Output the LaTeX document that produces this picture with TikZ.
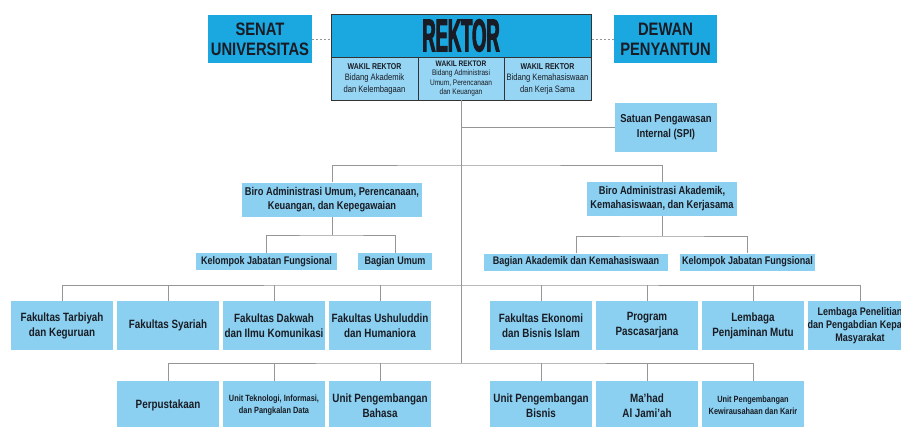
\documentclass[tikz,border=0pt]{standalone}
\usepackage{fontspec}
\usepackage{xcolor}
\usepackage{tikz}
\setmainfont{Liberation Sans}[FakeStretch=0.82]
\newfontfamily\rektorfont{Liberation Sans}[FakeStretch=0.40,FakeBold=2]
\definecolor{topblue}{RGB}{27,167,224}
\definecolor{boxblue}{RGB}{139,208,240}
\definecolor{cellblue}{RGB}{150,213,243}
\definecolor{linegray}{RGB}{150,150,150}
\definecolor{ink}{RGB}{25,28,36}

\begin{document}
\begin{tikzpicture}[x=1pt, y=-1pt, text=ink,
    head/.style={fill=topblue, minimum width=104pt, minimum height=48pt, inner sep=0pt, align=center,
        font=\bfseries\fontsize{18}{20}\selectfont},
    cell/.style={fill=cellblue, draw=black!80, line width=0.9pt, minimum width=87pt, minimum height=43pt,
        inner sep=0pt, align=center, font=\fontsize{9.3}{11.5}\selectfont},
    unit/.style={fill=boxblue, minimum width=102pt, minimum height=49pt, inner sep=0pt, align=center,
        font=\bfseries\fontsize{12}{15}\selectfont},
    biro/.style={fill=boxblue, minimum height=34pt, inner sep=0pt, align=center,
        font=\bfseries\fontsize{11.3}{14}\selectfont},
    sub/.style={fill=boxblue, minimum height=17pt, inner sep=0pt, align=center,
        font=\bfseries\fontsize{11}{13}\selectfont},
    small/.style={font=\bfseries\fontsize{9}{12}\selectfont},
    link/.style={draw=linegray, line width=1pt}]

    \useasboundingbox[fill=white] (0,0) rectangle (901,426);
    \clip (0,0) rectangle (901,426);

    \node[head] (senat) at (260,39) {SENAT\\UNIVERSITAS};
    \node[head, minimum width=260pt, minimum height=43pt, draw=black!80, line width=0.9pt,
        font=\rektorfont\bfseries\fontsize{46}{46}\selectfont] (rektor) at (461,35.5) {REKTOR};
    \node[cell] (wr1) at (374.5,78.5) {{\bfseries\fontsize{8.5}{10}\selectfont WAKIL REKTOR}\\Bidang Akademik\\dan Kelembagaan};
    \node[cell, minimum width=86pt, font=\fontsize{8}{9.6}\selectfont] (wr2) at (461,78.5)
        {{\bfseries WAKIL REKTOR}\\Bidang Administrasi\\Umum, Perencanaan\\dan Keuangan};
    \node[cell] (wr3) at (547.5,78.5) {{\bfseries\fontsize{8.5}{10}\selectfont WAKIL REKTOR}\\Bidang Kemahasiswaan\\dan Kerja Sama};
    \node[head, minimum width=103pt] (dewan) at (665.5,39) {DEWAN\\PENYANTUN};

    \node[unit, font=\bfseries\fontsize{11.5}{15}\selectfont] (spi) at (666,127.5) {Satuan Pengawasan\\Internal (SPI)};

    \node[biro, minimum width=180pt] (birou) at (332,199.5) {Biro Administrasi Umum, Perencanaan,\\Keuangan, dan Kepegawaian};
    \node[biro, minimum width=150pt] (biroa) at (662,199) {Biro Administrasi Akademik,\\Kemahasiswaan, dan Kerjasama};

    \node[sub, minimum width=141pt] (kjfu) at (266.5,261.5) {Kelompok Jabatan Fungsional};
    \node[sub, minimum width=74pt] (bagumum) at (395,261.5) {Bagian Umum};
    \node[sub, minimum width=184pt] (bagak) at (576,262) {Bagian Akademik dan Kemahasiswaan};
    \node[sub, minimum width=135pt] (kjfa) at (747.5,262) {Kelompok Jabatan Fungsional};

    \node[unit] (ftk) at (62,325.5) {Fakultas Tarbiyah\\dan Keguruan};
    \node[unit] (fsy) at (168,325.5) {Fakultas Syariah};
    \node[unit] (fdk) at (274,325.5) {Fakultas Dakwah\\dan Ilmu Komunikasi};
    \node[unit] (fuh) at (380,325.5) {Fakultas Ushuluddin\\dan Humaniora};
    \node[unit] (febi) at (541,325.5) {Fakultas Ekonomi\\dan Bisnis Islam};
    \node[unit] (pps) at (647,325.5) {Program\\Pascasarjana};
    \node[unit] (lpm) at (753,325.5) {Lembaga\\Penjaminan Mutu};
    \node[unit, font=\bfseries\fontsize{11}{13}\selectfont] (lppm) at (860,325.5)
        {Lembaga Penelitian\\dan Pengabdian Kepada\\Masyarakat};

    \node[unit] (perpus) at (168,405.5) {Perpustakaan};
    \node[unit, small] (utipd) at (274,405.5) {Unit Teknologi, Informasi,\\dan Pangkalan Data};
    \node[unit] (upb) at (380,405.5) {Unit Pengembangan\\Bahasa};
    \node[unit] (upbis) at (541,405.5) {Unit Pengembangan\\Bisnis};
    \node[unit] (mahad) at (647,405.5) {Ma'had\\Al Jami'ah};
    \node[unit, small] (upkk) at (753,405.5) {Unit Pengembangan\\Kewirausahaan dan Karir};

    \coordinate (birobus) at (461,165);
    \coordinate (ubus) at (332,235);
    \coordinate (abus) at (662,236);
    \coordinate (facbus) at (461,285);
    \coordinate (lowbus) at (461,363);

    \draw[linegray, line width=1pt, dash pattern=on 2pt off 2pt] (senat.east) -- (senat.east -| rektor.west);
    \draw[linegray, line width=1pt, dash pattern=on 2pt off 2pt] (dewan.west) -- (dewan.west -| rektor.east);

    \draw[link] (wr2.south) -- (lowbus);
    \draw[link] (spi.west) -- (spi.west -| wr2.south);
    \draw[link] (birou.north) |- (birobus) -| (biroa.north);
    \draw[link] (birou.south) -- (ubus);
    \draw[link] (kjfu.north) |- (ubus) -| (bagumum.north);
    \draw[link] (biroa.south) -- (abus);
    \draw[link] (bagak.north) |- (abus) -| (kjfa.north);
    \draw[link] (ftk.north) |- (facbus) -| (lppm.north);
    \draw[link] (fsy.north) -- (fsy.north |- facbus);
    \draw[link] (fdk.north) -- (fdk.north |- facbus);
    \draw[link] (fuh.north) -- (fuh.north |- facbus);
    \draw[link] (febi.north) -- (febi.north |- facbus);
    \draw[link] (pps.north) -- (pps.north |- facbus);
    \draw[link] (lpm.north) -- (lpm.north |- facbus);
    \draw[link] (perpus.north) |- (lowbus) -| (upkk.north);
    \draw[link] (utipd.north) -- (utipd.north |- lowbus);
    \draw[link] (upb.north) -- (upb.north |- lowbus);
    \draw[link] (upbis.north) -- (upbis.north |- lowbus);
    \draw[link] (mahad.north) -- (mahad.north |- lowbus);
\end{tikzpicture}
\end{document}
